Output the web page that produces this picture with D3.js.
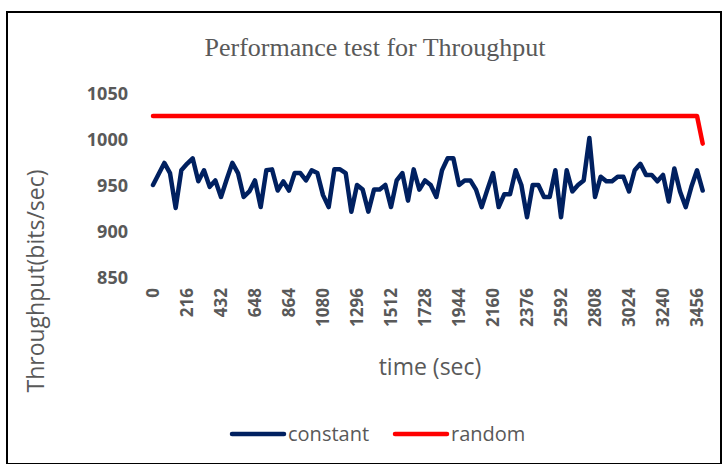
<!DOCTYPE html>
<html>
<head>
<meta charset="utf-8">
<script src="https://cdn.jsdelivr.net/npm/d3@7"></script>
<style>
  body { margin: 0; background: #fff; }
  svg text { fill: #595959; }
</style>
</head>
<body>
<script>
const width = 728
const height = 464
const navy = "#002060"
const red = "#ff0000"
const label_font = "'Open Sans', 'Liberation Sans', sans-serif"

// seconds on the category axis
const times = [
  0, 36, 72, 108, 144, 180, 216, 252, 288, 324, 360, 396, 432, 468, 504, 540,
  576, 612, 648, 684, 720, 756, 792, 828, 864, 900, 936, 972, 1008, 1044, 1080,
  1116, 1152, 1188, 1224, 1260, 1296, 1332, 1368, 1404, 1440, 1476, 1512, 1548,
  1584, 1620, 1656, 1692, 1728, 1764, 1800, 1836, 1872, 1908, 1944, 1980, 2016,
  2052, 2088, 2124, 2160, 2196, 2232, 2268, 2304, 2340, 2376, 2412, 2448, 2484,
  2520, 2556, 2592, 2628, 2664, 2700, 2736, 2772, 2808, 2844, 2880, 2916, 2952,
  2988, 3024, 3060, 3096, 3132, 3168, 3204, 3240, 3276, 3312, 3348, 3384, 3420,
  3456, 3492
]
const x_tick_labels = [0, 216, 432, 648, 864, 1080, 1296, 1512, 1728, 1944, 2160,
  2376, 2592, 2808, 3024, 3240, 3456]
const y_tick_labels = [850, 900, 950, 1000, 1050]

const constant = [
  950, 962, 974, 963, 925, 966, 973, 979, 954, 966, 948, 955, 937, 956, 974, 963,
  937, 943, 955, 926, 966, 967, 944, 954, 944, 963, 963, 955, 966, 963, 939, 926,
  967, 967, 963, 921, 950, 945, 921, 945, 945, 950, 926, 955, 963, 933, 967, 945,
  955, 950, 937, 966, 979, 979, 950, 955, 955, 945, 926, 945, 963, 926, 940, 940,
  966, 950, 915, 950, 950, 937, 937, 966, 915, 966, 943, 950, 955, 1001, 937, 959,
  954, 954, 959, 959, 943, 966, 973, 961, 961, 954, 961, 932, 968, 943, 926, 948,
  966, 944
]
const random = [
  1025, 1025, 1025, 1025, 1025, 1025, 1025, 1025, 1025, 1025, 1025, 1025, 1025, 1025,
  1025, 1025, 1025, 1025, 1025, 1025, 1025, 1025, 1025, 1025, 1025, 1025, 1025, 1025,
  1025, 1025, 1025, 1025, 1025, 1025, 1025, 1025, 1025, 1025, 1025, 1025, 1025, 1025,
  1025, 1025, 1025, 1025, 1025, 1025, 1025, 1025, 1025, 1025, 1025, 1025, 1025, 1025,
  1025, 1025, 1025, 1025, 1025, 1025, 1025, 1025, 1025, 1025, 1025, 1025, 1025, 1025,
  1025, 1025, 1025, 1025, 1025, 1025, 1025, 1025, 1025, 1025, 1025, 1025, 1025, 1025,
  1025, 1025, 1025, 1025, 1025, 1025, 1025, 1025, 1025, 1025, 1025, 1025, 1025, 995
]

var svg = d3.select("body").append("svg")
  .attr("width", width)
  .attr("height", height)

// chart border
svg.append("rect")
  .attr("x", 7).attr("y", 12)
  .attr("width", 714).attr("height", 452)
  .style("fill", "none")
  .style("stroke", "#000")
  .style("stroke-width", 2)

var x = d3.scalePoint().domain(times).range([153, 702.7])
var y = d3.scaleLinear().domain([850, 1050]).range([277, 93])

svg.append("text")
  .attr("x", 375).attr("y", 56)
  .attr("text-anchor", "middle")
  .style("font-family", "'Liberation Serif', serif")
  .style("font-size", "26px")
  .text("Performance test for Throughput")

// y axis
var yAxis = svg.append("g")
  .attr("transform", "translate(153,0)")
  .call(d3.axisLeft(y).tickValues(y_tick_labels).tickFormat(d3.format("d"))
    .tickSize(0).tickPadding(25))
yAxis.select(".domain").remove()
yAxis.selectAll("text")
  .style("font-family", label_font)
  .style("font-size", "18px")
  .style("font-weight", "bold")
  .attr("dy", "0.35em")

// x axis, rotated labels
var xAxis = svg.append("g")
  .attr("transform", "translate(0,288)")
  .call(d3.axisBottom(x).tickValues(x_tick_labels).tickSize(0).tickPadding(0))
xAxis.select(".domain").remove()
xAxis.selectAll("text")
  .style("font-family", label_font)
  .style("font-size", "17px")
  .style("font-weight", "bold")
  .attr("transform", "rotate(-90)")
  .attr("text-anchor", "end")
  .attr("x", 0)
  .attr("y", 0)
  .attr("dy", "0.35em")

svg.append("text")
  .attr("transform", "translate(44,281) rotate(-90)")
  .attr("text-anchor", "middle")
  .style("font-family", label_font)
  .style("font-size", "23px")
  .text("Throughput(bits/sec)")

svg.append("text")
  .attr("x", 430).attr("y", 375)
  .attr("text-anchor", "middle")
  .style("font-family", label_font)
  .style("font-size", "23px")
  .text("time (sec)")

var line = d3.line()
  .x((d, i) => x(times[i]))
  .y(d => y(d))

svg.append("path")
  .datum(random)
  .attr("d", line)
  .style("fill", "none")
  .style("stroke", red)
  .style("stroke-width", 4.5)
  .style("stroke-linejoin", "round")
  .style("stroke-linecap", "round")

svg.append("path")
  .datum(constant)
  .attr("d", line)
  .style("fill", "none")
  .style("stroke", navy)
  .style("stroke-width", 4.5)
  .style("stroke-linejoin", "round")
  .style("stroke-linecap", "round")

// legend
var legend = [["constant", navy, 232], ["random", red, 395]]
legend.forEach(function(l) {
  svg.append("line")
    .attr("x1", l[2]).attr("x2", l[2] + 52)
    .attr("y1", 434).attr("y2", 434)
    .style("stroke", l[1])
    .style("stroke-width", 4.5)
    .style("stroke-linecap", "round")
  svg.append("text")
    .attr("x", l[2] + 56).attr("y", 441)
    .style("font-family", label_font)
    .style("font-size", "20px")
    .text(l[0])
})
</script>
</body>
</html>
